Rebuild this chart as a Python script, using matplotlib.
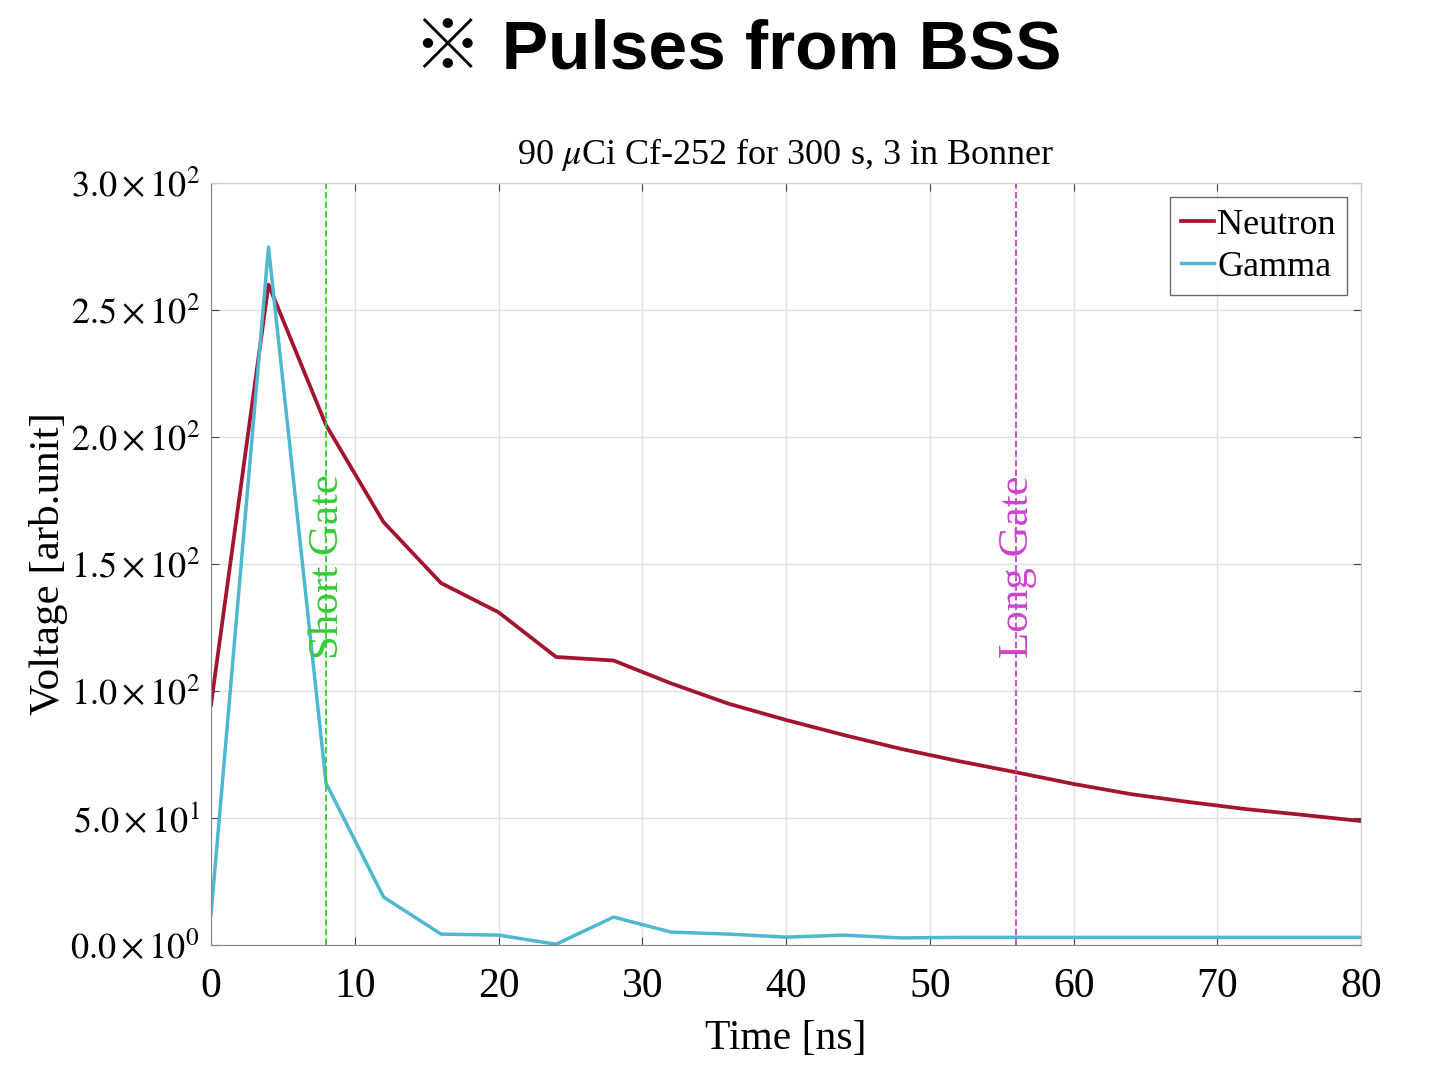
import matplotlib
matplotlib.use("Agg")
import matplotlib.pyplot as plt
from matplotlib.ticker import FuncFormatter

# temps en ns, un point toutes les 4 ns
time_ns = [0, 4, 8, 12, 16, 20, 24, 28, 32, 36, 40, 44, 48, 52, 56, 60, 64, 68, 72, 76, 80]
neutron = [94.5, 260, 204.7, 166.5, 142.5, 131, 113.4, 112, 103, 95, 88.6, 82.7,
           77.2, 72.4, 68, 63.4, 59.4, 56.3, 53.5, 51.2, 48.8]
gamma = [11.8, 274.8, 63.8, 18.9, 4.3, 3.9, 0.3, 11, 5.1, 4.3, 3.1, 3.9,
         2.8, 3.0, 3.0, 3.0, 3.0, 3.0, 3.0, 3.0, 3.0]
short_gate = 8
long_gate = 56
y_ticks = [0, 50, 100, 150, 200, 250, 300]
x_ticks = [0, 10, 20, 30, 40, 50, 60, 70, 80]

plt.rcParams['mathtext.fontset'] = 'stix'
serif = 'Liberation Serif'

fig = plt.figure(figsize=(14.45, 10.7), dpi=100)
ax = fig.add_axes([0.146, 0.1168, 0.796, 0.7122])

ax.plot(time_ns, neutron, color='#A2142F', lw=2.7, label='Neutron')
ax.plot(time_ns, gamma, color='#4DB8D0', lw=2.5, label='Gamma')

ax.axvline(short_gate, color='#33CC33', ls='--', lw=1.3)
ax.axvline(long_gate, color='#CC44CC', ls='--', lw=1.3)
ax.text(short_gate + 0.1, 149, 'Short Gate', rotation=90, color='#33CC33',
        family=serif, fontsize=31, ha='center', va='center')
ax.text(long_gate + 0.1, 149, 'Long Gate', rotation=90, color='#CC44CC',
        family=serif, fontsize=31, ha='center', va='center')

def sci(v, pos):
    if v == 0:
        return r'$0.0\times10^{0}$'
    e = 0
    m = v
    while m >= 10:
        m /= 10
        e += 1
    return r'$%.1f\times10^{%d}$' % (m, e)

ax.set_xlim(0, 80)
ax.set_ylim(0, 300)
ax.set_xticks(x_ticks)
ax.set_yticks(y_ticks)
ax.yaxis.set_major_formatter(FuncFormatter(sci))
ax.tick_params(direction='in', length=6, color='#444444', top=True, right=True)
ax.tick_params(axis='y', labelsize=26, pad=8)
ax.tick_params(axis='x', labelsize=30, pad=16)
for lab in ax.get_xticklabels():
    lab.set_family(serif)
ax.grid(True, color='#E0E0E0', lw=1)
for s in ax.spines.values():
    s.set_color('#CCCCCC')
ax.spines['left'].set_color('#888888')
ax.spines['bottom'].set_color('#888888')

ax.set_xlabel('Time [ns]', family=serif, fontsize=30, labelpad=10)
ax.set_ylabel('Voltage [arb.unit]', family=serif, fontsize=31, labelpad=2)
ax.set_title(r'90 $\mu$Ci Cf-252 for 300 s, 3 in Bonner', family=serif, fontsize=26, pad=14)

leg = ax.legend(loc='upper right', prop={'family': serif, 'size': 26}, handlelength=0.9,
                handletextpad=0.1, fancybox=False, edgecolor='#444444', borderaxespad=0.4,
                borderpad=0.3, labelspacing=0.25)

fig.text(0.51, 0.953, '\u203b Pulses from BSS', ha='center', va='center', fontsize=50,
         fontweight='bold', family=['Liberation Sans', 'Noto Sans CJK JP', 'DejaVu Sans'])

fig.savefig('out.png', dpi=100)
